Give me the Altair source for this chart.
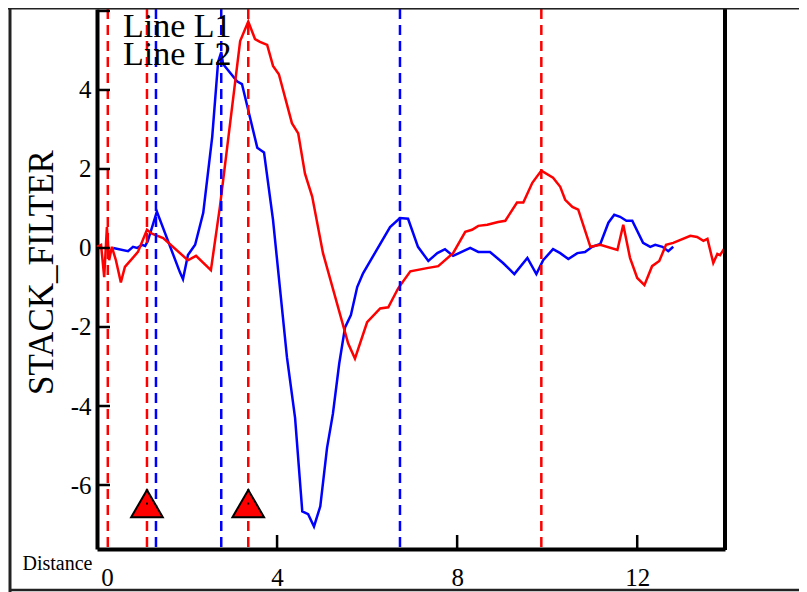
import altair as alt
import pandas as pd

# ---- data ----
blue_x = [0.36, 0.69, 0.80, 0.89, 1.00, 1.07, 1.13, 1.33, 1.84, 1.91, 2.02, 2.18, 2.36, 2.56, 2.69, 2.76,
          2.80, 3.11, 3.22, 3.56, 3.71, 3.91, 4.22, 4.40, 4.56, 4.69, 4.82, 4.96, 5.11, 5.24, 5.38, 5.51,
          5.64, 5.78, 5.91, 6.51, 6.73, 6.91, 7.13, 7.36, 7.56, 7.73, 7.91, 8.29, 8.47, 8.73, 9.02, 9.27,
          9.56, 9.76, 9.91, 10.13, 10.29, 10.47, 10.67, 10.84, 11.00, 11.18, 11.36, 11.49, 11.62, 11.76,
          11.89, 12.13, 12.29, 12.40, 12.56, 12.69, 12.80]
blue_y = [0.00, -0.08, 0.03, 0.00, 0.08, 0.05, 0.18, 0.92, -0.61, -0.79, -0.18, 0.08, 0.89, 2.82, 4.71, 4.96,
          4.66, 4.22, 4.15, 2.54, 2.42, 0.71, -2.77, -4.30, -6.67, -6.74, -7.05, -6.54, -5.06, -4.20, -2.93, -2.01,
          -1.70, -0.99, -0.64, 0.53, 0.76, 0.74, 0.03, -0.33, -0.13, -0.03, -0.20, 0.00, -0.10, -0.10, -0.38, -0.66,
          -0.25, -0.66, -0.31, -0.03, -0.13, -0.28, -0.13, -0.10, 0.03, 0.10, 0.64, 0.84, 0.79, 0.69,
          0.69, 0.13, 0.03, 0.08, 0.03, -0.08, 0.03]

red_x = [0.00, 0.09, 0.16, 0.22, 0.27, 0.33, 0.42, 0.53, 0.62, 0.91, 1.11, 1.22, 1.47, 2.02, 2.20, 2.53,
         2.73, 3.18, 3.36, 3.51, 3.62, 3.78, 3.91, 4.04, 4.33, 4.47, 4.62, 4.78, 5.02, 5.58, 5.73, 6.00,
         6.29, 6.47, 6.69, 6.96, 7.33, 7.58, 7.91, 8.18, 8.33, 8.47, 8.67, 8.91, 9.07, 9.33, 9.47, 9.67,
         9.87, 10.13, 10.29, 10.40, 10.56, 10.69, 10.96, 11.18, 11.56, 11.69, 11.84, 12.00, 12.16, 12.33,
         12.49, 12.64, 12.80, 13.18, 13.33, 13.47, 13.56, 13.69, 13.78, 13.84, 13.96]
red_y = [0.03, 0.08, -0.74, 0.53, -0.31, 0.03, -0.31, -0.87, -0.48, -0.10, 0.46, 0.36, 0.25, -0.31, -0.20, -0.56,
         1.04, 5.24, 5.73, 5.29, 5.22, 5.14, 4.61, 4.40, 3.16, 2.90, 1.88, 1.30, -0.13, -2.42, -2.80, -1.88,
         -1.53, -1.50, -1.02, -0.59, -0.51, -0.46, -0.13, 0.41, 0.46, 0.56, 0.59, 0.66, 0.69, 1.15, 1.15, 1.65,
         1.96, 1.78, 1.55, 1.22, 1.04, 0.97, 0.03, 0.08, -0.05, 0.59, -0.25, -0.76, -0.94, -0.46,
         -0.33, 0.08, 0.13, 0.31, 0.28, 0.18, 0.23, -0.38, -0.15, -0.18, 0.03]

red_vlines = [0.24, 1.11, 3.36, 9.87]
blue_vlines = [1.31, 2.76, 6.73]
tri_x = [1.11, 3.36]
tri_y = [-6.47, -6.47]
y_ticks = [-6, -4, -2, 0, 2, 4, 6]
x_ticks = [0, 4, 8, 12]
legend_labels = ["Line L1", "Line L2"]

FONT = "Liberation Serif"
W, H = 628, 540
xs = alt.Scale(domain=[0, 13.95], nice=False, zero=False)
ys = alt.Scale(domain=[-7.62, 6.05], nice=False, zero=False)

x_axis = alt.Axis(values=x_ticks, title="Distance", titleFont=FONT, titleFontSize=20,
                  titleFontWeight="normal", titleColor="black", titleX=-40, titleY=14,
                  titleAlign="center", titleBaseline="middle",
                  labelFont=FONT, labelFontSize=25, labelColor="black", labelPadding=16,
                  labelFlush=False,
                  labelOffset={"condition": {"test": "datum.value == 0", "value": 10}, "value": 0},
                  ticks=False, tickSize=0, grid=False, domainColor="black", domainWidth=4)
y_axis = alt.Axis(values=y_ticks, title="STACK_FILTER", titleFont=FONT, titleFontSize=35,
                  titleFontWeight="normal", titleColor="black", titleAngle=-90,
                  titleX=-45, titleY=263, titleAlign="center", titleBaseline="alphabetic",
                  labelExpr="datum.value == 6 ? '' : '' + datum.value",
                  labelFont=FONT, labelFontSize=25, labelColor="black", labelPadding=6,
                  ticks=False, tickSize=0, grid=False, domainColor="black", domainWidth=4)

X = lambda f: alt.X(f, type="quantitative", scale=xs, axis=x_axis)
Y = lambda f: alt.Y(f, type="quantitative", scale=ys, axis=y_axis)

blue_df = pd.DataFrame({"x": blue_x, "y": blue_y})
red_df = pd.DataFrame({"x": red_x, "y": red_y})

blue_line = alt.Chart(blue_df).mark_line(color="#0000ff", strokeWidth=2.5).encode(x=X("x"), y=Y("y"))
red_line = alt.Chart(red_df).mark_line(color="#ff0000", strokeWidth=2.5).encode(x=X("x"), y=Y("y"))

red_dash = alt.Chart(pd.DataFrame({"v": red_vlines})).mark_rule(
    color="#ff0000", strokeWidth=2.5, strokeDash=[10, 6]).encode(x=X("v"))
blue_dash = alt.Chart(pd.DataFrame({"v": blue_vlines})).mark_rule(
    color="#0000ff", strokeWidth=2.5, strokeDash=[10, 6]).encode(x=X("v"))

tri_df = pd.DataFrame({"x": tri_x, "y": tri_y})
triangles = alt.Chart(tri_df).mark_point(
    shape="triangle-up", size=1000, filled=True, fill="#ff0000", stroke="black",
    strokeWidth=2, opacity=1, fillOpacity=1).encode(x=X("x"), y=Y("y"))
tri_dots = alt.Chart(tri_df).mark_point(
    shape="square", size=4, filled=True, color="black", opacity=1).encode(x=X("x"), y=Y("y"))

yt = alt.Chart(pd.DataFrame({"v": y_ticks})).mark_rule(color="black", strokeWidth=2.5).encode(
    y=Y("v"), x=alt.value(0), x2=alt.value(13))
xt = alt.Chart(pd.DataFrame({"v": x_ticks[1:]})).mark_rule(color="black", strokeWidth=2.5).encode(
    x=X("v"), y=alt.value(H), y2=alt.value(H - 14))

legend_layers = []
for i, lab in enumerate(legend_labels):
    legend_layers.append(
        alt.Chart(pd.DataFrame({"t": [lab]})).mark_text(
            font=FONT, fontSize=34, color="black", align="left", baseline="alphabetic").encode(
            text="t:N", x=alt.value(26), y=alt.value(28 + 28 * i)))

frame_style = dict(color="#222222")
right_edge = alt.Chart().mark_rule(color="black", strokeWidth=4).encode(
    x=alt.value(W), y=alt.value(-1), y2=alt.value(H + 1))
left_frame = alt.Chart().mark_rule(strokeWidth=3, **frame_style).encode(
    x=alt.value(-87), y=alt.value(-2), y2=alt.value(H + 44))
bottom_frame = alt.Chart().mark_rule(strokeWidth=2.5, **frame_style).encode(
    y=alt.value(581), x=alt.value(-87), x2=alt.value(715))
top_frame = alt.Chart().mark_rule(strokeWidth=2, **frame_style).encode(
    y=alt.value(-0.5), x=alt.value(-90), x2=alt.value(715))

chart = alt.layer(
    blue_line, red_line, red_dash, blue_dash, yt, xt, triangles, tri_dots, *legend_layers,
    right_edge, left_frame, bottom_frame, top_frame
).properties(
    width=W, height=H,
    autosize=alt.AutoSizeParams(type="none"),
    padding={"left": 89, "top": 1, "right": 74, "bottom": 43},
).configure_view(stroke=None).configure(background="white")

chart.save("out.html", embed_options={"renderer": "svg", "actions": False})
